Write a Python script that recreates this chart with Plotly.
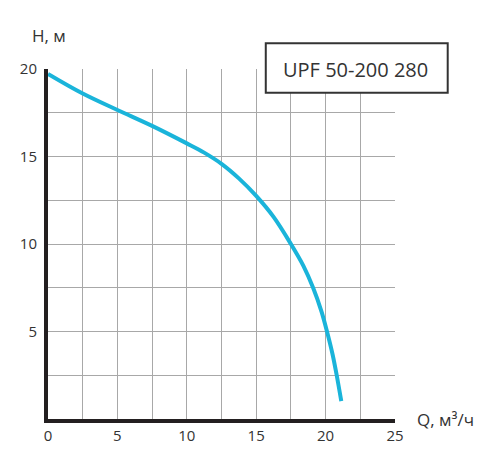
import plotly.graph_objects as go

# Pump curve UPF 50-200 280
flow_q = [0, 2.5, 5, 7.5, 10, 11.25, 12.5, 13.75, 15, 16.25, 17.5, 18.4, 19.1, 19.7, 20.1, 20.5, 20.8, 21.13]
head_h = [19.72, 18.6, 17.66, 16.75, 15.75, 15.22, 14.58, 13.75, 12.75, 11.55, 10.0, 8.75, 7.5, 6.15, 5.0, 3.7, 2.5, 1.02]

x_tick_vals = [0, 2.5, 5, 7.5, 10, 12.5, 15, 17.5, 20, 22.5, 25]
x_tick_text = ["0", "", "5", "", "10", "", "15", "", "20", "", "25"]
y_tick_vals = [0, 2.5, 5, 7.5, 10, 12.5, 15, 17.5, 20]
y_tick_text = ["", "", "5", "", "10", "", "15", "", "20"]

model_name = "UPF 50-200 280"

colors = {
    "curve": "#1AB4DA",
    "grid": "#A8A8A8",
    "axis": "#231F20",
    "text": "#333333",
}
FONT = "Open Sans"

fig = go.Figure()

fig.add_trace(
    go.Scatter(
        x=flow_q,
        y=head_h,
        mode="lines",
        line=dict(color=colors["curve"], width=4, shape="spline", smoothing=1),
        showlegend=False,
        hoverinfo="skip",
    )
)

# page body has an 8px margin, so the figure is a bit smaller than the window
fig.update_layout(
    width=492,
    height=451,
    plot_bgcolor="white",
    paper_bgcolor="white",
    font=dict(family=FONT, color=colors["text"], size=15),
    margin=dict(l=36, r=105, t=61, b=40),
    showlegend=False,
)

fig.update_xaxes(
    range=[0, 25],
    tickmode="array",
    tickvals=x_tick_vals,
    ticktext=x_tick_text,
    showgrid=True,
    gridcolor=colors["grid"],
    gridwidth=1,
    zeroline=False,
    showline=True,
    linecolor=colors["axis"],
    linewidth=4,
    ticks="",
    ticklabelstandoff=0,
)
fig.update_yaxes(
    range=[0, 20],
    tickmode="array",
    tickvals=y_tick_vals,
    ticktext=y_tick_text,
    showgrid=True,
    gridcolor=colors["grid"],
    gridwidth=1,
    zeroline=False,
    showline=True,
    linecolor=colors["axis"],
    linewidth=4,
    ticks="",
    ticklabelstandoff=4,
)

# Model name box
fig.add_shape(
    type="rect",
    xref="paper",
    yref="paper",
    x0=0.6276,
    x1=1.1519,
    y0=0.9324,
    y1=1.0733,
    line=dict(color="#333333", width=2),
    fillcolor="white",
    layer="above",
)
fig.add_annotation(
    text=model_name,
    xref="paper",
    yref="paper",
    x=0.886,
    y=0.999,
    xanchor="center",
    yanchor="middle",
    showarrow=False,
    font=dict(family=FONT, size=20, color=colors["text"]),
)

# Axis titles
fig.add_annotation(
    text="H, м",
    xref="paper",
    yref="paper",
    x=0.002,
    y=1.097,
    xanchor="center",
    yanchor="middle",
    showarrow=False,
    font=dict(family=FONT, size=17, color=colors["text"]),
)
fig.add_annotation(
    text="Q, м³/ч",
    xref="paper",
    yref="paper",
    x=1.145,
    y=0.0,
    xanchor="center",
    yanchor="middle",
    showarrow=False,
    font=dict(family=FONT, size=17, color=colors["text"]),
)

fig.write_html("out.html")
